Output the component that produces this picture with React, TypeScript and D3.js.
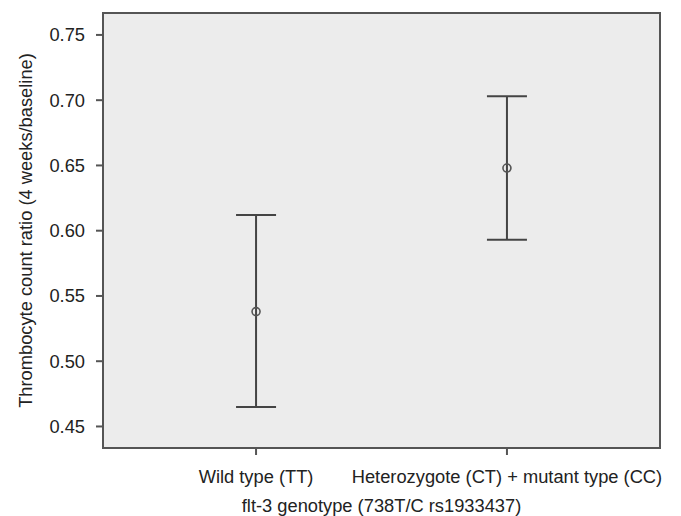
import React from "react";
import * as d3 from "d3";

const categories = ["Wild type (TT)", "Heterozygote (CT) + mutant type (CC)"];
const means = [0.538, 0.648];
const lowers = [0.465, 0.593];
const uppers = [0.612, 0.703];
const yTicks = [0.45, 0.5, 0.55, 0.6, 0.65, 0.7, 0.75];

const W = 681, H = 516;
const m = { left: 103, top: 13, right: 21, bottom: 68 };

export default function App() {
  const x = d3.scalePoint<string>().domain(categories).range([m.left, W - m.right]).padding(0.61);
  const y = d3.scaleLinear().domain([0.4335, 0.7668]).range([H - m.bottom, m.top]);
  const font = "'Liberation Sans', Arial, sans-serif";
  const axisColor = "#555";
  const barColor = "#444";
  const fs = 18.3;
  return (
    <svg width={W} height={H} style={{ position: "absolute", left: 0, top: 0 }} fontFamily={font}>
      <rect x={0} y={0} width={W} height={H} fill="#fff" />
      <rect x={m.left} y={m.top} width={W - m.right - m.left} height={H - m.bottom - m.top} fill="#ececec" stroke={axisColor} strokeWidth={2} />
      {yTicks.map((t) => (
        <g key={t}>
          <line x1={m.left - 7} x2={m.left} y1={y(t)} y2={y(t)} stroke={axisColor} strokeWidth={2} />
          <text x={85} y={y(t)} dy="0.35em" textAnchor="end" fontSize={fs} fill="#222">{t.toFixed(2)}</text>
        </g>
      ))}
      {categories.map((c, i) => (
        <g key={c}>
          <line x1={x(c)} x2={x(c)} y1={H - m.bottom} y2={H - m.bottom + 7} stroke={axisColor} strokeWidth={2} />
          <text x={x(c)} y={477} dy="0.35em" textAnchor="middle" fontSize={fs} fill="#222">{c}</text>
          <line x1={x(c)} x2={x(c)} y1={y(uppers[i])} y2={y(lowers[i])} stroke={barColor} strokeWidth={2} />
          <line x1={x(c)! - 20} x2={x(c)! + 20} y1={y(uppers[i])} y2={y(uppers[i])} stroke={barColor} strokeWidth={2} />
          <line x1={x(c)! - 20} x2={x(c)! + 20} y1={y(lowers[i])} y2={y(lowers[i])} stroke={barColor} strokeWidth={2} />
          <circle cx={x(c)} cy={y(means[i])} r={4} fill="none" stroke="#555" strokeWidth={1.6} />
        </g>
      ))}
      <text x={(m.left + W - m.right) / 2} y={506} dy="0.35em" textAnchor="middle" fontSize={fs} fill="#222">flt-3 genotype (738T/C rs1933437)</text>
      <text transform={`translate(26,${(m.top + H - m.bottom) / 2}) rotate(-90)`} dy="0.35em" textAnchor="middle" fontSize={fs} fill="#222">Thrombocyte count ratio (4 weeks/baseline)</text>
    </svg>
  );
}
